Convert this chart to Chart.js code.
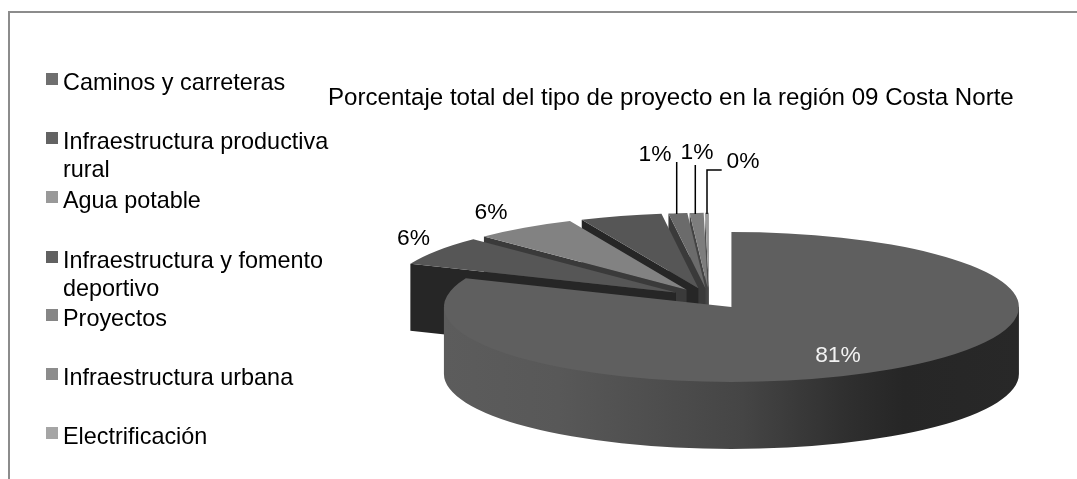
<!DOCTYPE html>
<html>
<head>
<meta charset="utf-8">
<style>html,body{margin:0;padding:0;background:#fff}canvas{display:block}</style>
<script src="https://cdn.jsdelivr.net/npm/chart.js@4"></script>
</head>
<body>
<canvas id="c" width="1077" height="479"></canvas>
<script>
const titleText = "Porcentaje total del tipo de proyecto en la región 09 Costa Norte";
const categories = ["Caminos y carreteras","Infraestructura productiva rural","Agua potable","Infraestructura y fomento deportivo","Proyectos","Infraestructura urbana","Electrificación"];
const legendLines = [["Caminos y carreteras"],["Infraestructura productiva","rural"],["Agua potable"],["Infraestructura y fomento","deportivo"],["Proyectos"],["Infraestructura urbana"],["Electrificación"]];
const values = [81.25,6.3,5.8,4.6,1.05,0.78,0.22];
const faceColors = ["#5f5f5f","#565656","#828282","#565656","#6b6b6b","#7d7d7d","#9a9a9a"];
const wallColors = ["#262626","#262626","#3a3a3a","#262626","#3a3a3a","#444444","#4e4e4e"];
const legendColors = ["#6f6f6f","#636363","#999999","#616161","#868686","#8c8c8c","#a5a5a5"];
const FONT = '"Liberation Sans", Arial, sans-serif';
const CX=709.2, CY=298.3, SQ=0.261, EXPLODE=40, DEPTH=67, R=287.5;

const pie3d = {
  id:'pie3d',
  beforeDatasetsDraw(chart){
    const ctx = chart.ctx;
    const arcs = chart.getDatasetMeta(0).data;
    // frame
    ctx.save();
    ctx.strokeStyle='#8c8c8c'; ctx.lineWidth=2;
    ctx.beginPath(); ctx.moveTo(9,479); ctx.lineTo(9,12); ctx.lineTo(1077,12); ctx.stroke();
    ctx.restore();
    // paint far slices first, the large near slice last
    for(let i=arcs.length-1;i>=0;i--){
      const a = arcs[i];
      const mid=(a.startAngle+a.endAngle)/2;
      const ox=CX+Math.cos(mid)*EXPLODE, oy=CY+Math.sin(mid)*EXPLODE*SQ;
      const rr=a.outerRadius;
      if(i===0){
        // curved outer wall, running under the top face to avoid a seam
        const g=ctx.createLinearGradient(ox-rr,0,ox+rr,0);
        g.addColorStop(0,'#5c5c5c'); g.addColorStop(0.2,'#585858'); g.addColorStop(0.52,'#454545');
        g.addColorStop(0.7,'#2f2f2f'); g.addColorStop(0.8,'#262626'); g.addColorStop(1,'#282828');
        ctx.save(); ctx.fillStyle=g;
        ctx.beginPath();
        ctx.moveTo(ox+rr,oy);
        ctx.lineTo(ox-rr,oy);
        ctx.lineTo(ox-rr,oy+DEPTH);
        ctx.ellipse(ox,oy+DEPTH,rr,rr*SQ,0,Math.PI,0,true);
        ctx.closePath(); ctx.fill(); ctx.restore();
      } else {
        // radial side wall on the slice's leading edge
        const ex=ox+Math.cos(a.startAngle)*rr, ey=oy+Math.sin(a.startAngle)*rr*SQ;
        ctx.save(); ctx.fillStyle=wallColors[i];
        ctx.beginPath(); ctx.moveTo(ox,oy); ctx.lineTo(ex,ey); ctx.lineTo(ex,ey+DEPTH); ctx.lineTo(ox,oy+DEPTH);
        ctx.closePath(); ctx.fill(); ctx.restore();
      }
      // top face drawn by the arc element under a squashing transform
      ctx.save();
      ctx.translate(ox,oy); ctx.scale(1,SQ); ctx.translate(-a.x,-a.y);
      a.draw(ctx);
      ctx.restore();
    }
    // title
    ctx.save();
    ctx.fillStyle='#000'; ctx.textBaseline='alphabetic'; ctx.textAlign='left';
    ctx.font='24.1px '+FONT;
    ctx.fillText(titleText,328,105);
    // legend
    ctx.font='23.4px '+FONT;
    const rowTop=[90,149,208,268,326,385,444];
    legendLines.forEach((lines,i)=>{
      ctx.fillStyle=legendColors[i];
      ctx.fillRect(46,rowTop[i]-17,12,12);
      ctx.fillStyle='#000';
      lines.forEach((t,j)=>ctx.fillText(t,63,rowTop[i]+j*28));
    });
    // percentage labels
    const labelPos=[[838,362,'#f2f2f2'],[413.5,245,'#000'],[491,219,'#000'],null,[655,161,'#000'],[697,159,'#000'],[743,168,'#000']];
    ctx.textAlign='center'; ctx.font='22.8px '+FONT;
    values.forEach((v,i)=>{
      const p=labelPos[i]; if(!p) return;
      ctx.fillStyle=p[2];
      ctx.fillText(Math.round(v)+'%',p[0],p[1]);
    });
    // leader lines
    ctx.strokeStyle='#000'; ctx.lineWidth=1.5;
    ctx.beginPath();
    ctx.moveTo(676.7,162); ctx.lineTo(676.7,214);
    ctx.moveTo(695.3,165); ctx.lineTo(695.3,214);
    ctx.moveTo(721.7,170); ctx.lineTo(707,170); ctx.lineTo(707,214);
    ctx.stroke();
    ctx.restore();
    return false;
  }
};

new Chart(document.getElementById('c'),{
  type:'pie',
  data:{labels:categories,datasets:[{data:values,backgroundColor:faceColors,borderWidth:0,radius:R}]},
  options:{responsive:false,animation:false,layout:{padding:0},
    plugins:{legend:{display:false},title:{display:false},tooltip:{enabled:false}}},
  plugins:[pie3d]
});
</script>
</body>
</html>
